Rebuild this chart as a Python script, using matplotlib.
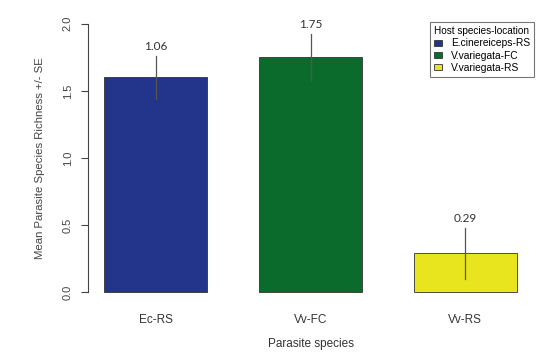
import matplotlib.pyplot as plt
from matplotlib.patches import Patch

plt.rcParams["font.family"] = ["Liberation Sans", "DejaVu Sans"]

groups = ["Ec-RS", "Vv-FC", "Vv-RS"]
legend_labels = ["E.cinereiceps-RS", "V.variegata-FC", "V.variegata-RS"]
means = [1.60, 1.75, 0.29]
se = [0.16, 0.175, 0.19]
bar_text = ["1.06", "1.75", "0.29"]
colors = ["#22358a", "#0b6b2c", "#e8e51e"]

fig = plt.figure(figsize=(5.5, 3.52), dpi=100)
# plot region in pixels: x 88..533, y 13..303
ax = fig.add_axes([88 / 550, 1 - 303 / 352, (533 - 88) / 550, (303 - 13) / 352])

x = [1.0, 2.5, 4.0]
ax.bar(x, means, width=1.0, color=colors, edgecolor="#333333", linewidth=0.6, zorder=2)
for xi, m, s, t in zip(x, means, se, bar_text):
    ax.plot([xi, xi], [m - s, m + s], color="#555555", lw=0.9, zorder=3)
    ax.text(xi, m + s + 0.07, t, ha="center", va="center", fontsize=8.5,
            family="Lato", color="#333333")

ax.set_xlim(0.34, 4.66)
ax.set_ylim(-0.08, 2.08)
for sp in ["top", "right", "bottom"]:
    ax.spines[sp].set_visible(False)
ax.spines["left"].set_bounds(0, 2)
ax.spines["left"].set_color("#444444")
ax.spines["left"].set_linewidth(0.8)
ax.set_yticks([0.0, 0.5, 1.0, 1.5, 2.0])
ax.set_yticklabels(["0.0", "0.5", "1.0", "1.5", "2.0"], rotation=90, va="center")
ax.tick_params(axis="y", length=5, width=0.8, color="#444444", labelsize=8,
               labelcolor="#444444", pad=6)
ax.set_xticks(x)
ax.set_xticklabels(groups)
ax.tick_params(axis="x", length=0, labelsize=8.5, labelcolor="#333333", pad=8)
ax.set_ylabel("Mean Parasite Species Richness +/- SE", fontsize=8.2, color="#444444", labelpad=13)
fig.text(ax.get_position().x0 + ax.get_position().width * (2.5 - 0.34) / 4.32, 1 - 344 / 352,
         "Parasite species", ha="center", va="center", fontsize=8.5, color="#333333")

handles = [Patch(facecolor=c, edgecolor="#333333", linewidth=0.6) for c in colors]
leg = ax.legend(handles, legend_labels, title="Host species-location", loc="upper right",
                bbox_to_anchor=(1.002, 0.968), fontsize=7.4, title_fontsize=7.2,
                frameon=True, fancybox=False, handlelength=0.8, handleheight=0.55,
                handletextpad=0.8, borderpad=0.4, labelspacing=0.2, borderaxespad=0)
leg.get_frame().set_edgecolor("#555555")
leg.get_frame().set_linewidth(0.8)

fig.savefig("out.png", dpi=100)
